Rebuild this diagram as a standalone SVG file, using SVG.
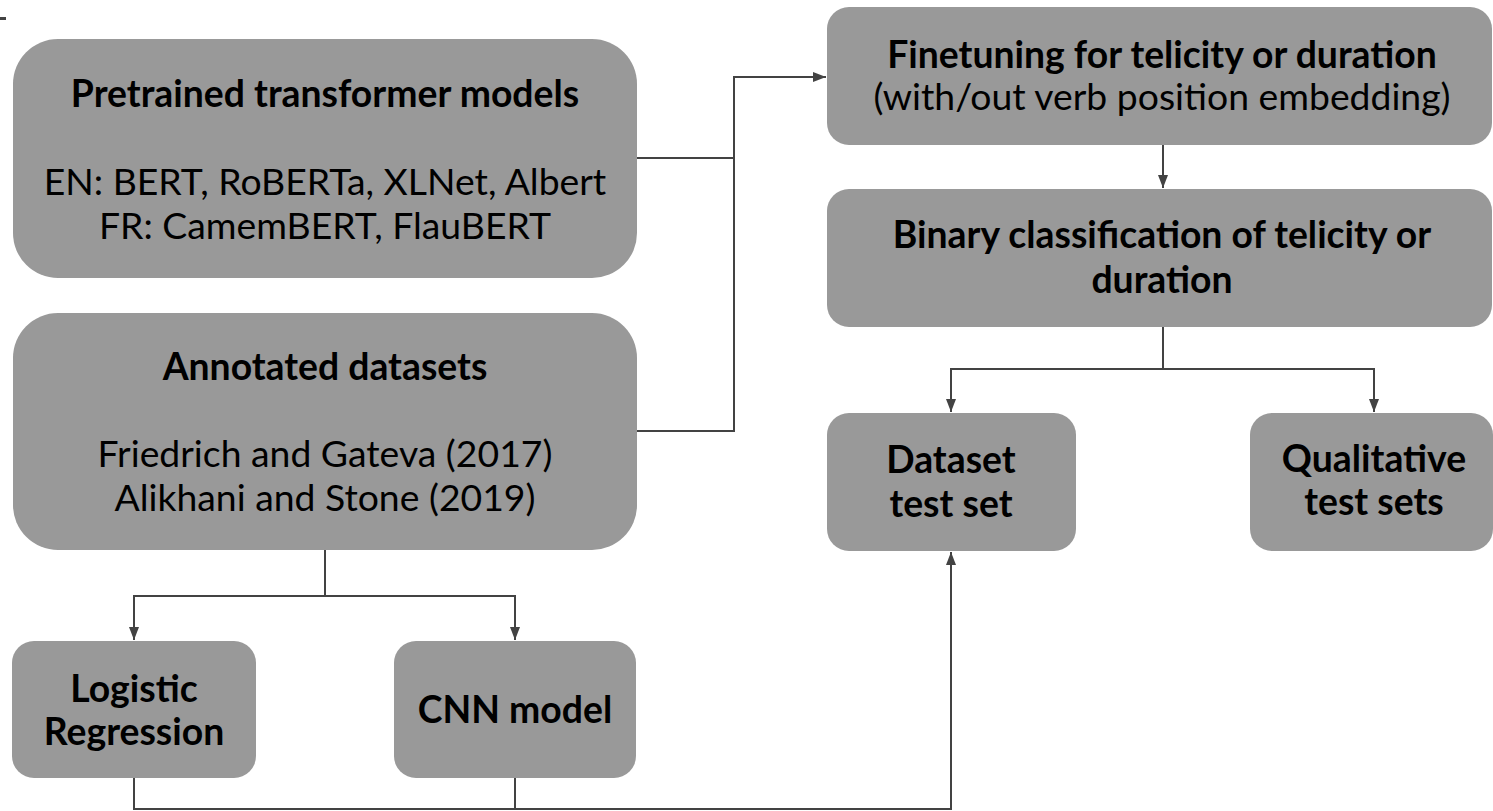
<svg xmlns="http://www.w3.org/2000/svg" width="1493" height="811" viewBox="0 0 1493 811">
  <style>
    .box { fill: #999999; }
    .t { font-family: Lato, "Liberation Sans", sans-serif; fill: #000; text-anchor: middle; font-size: 37.33px; }
    .b { font-weight: bold; }
    .wire { fill: none; stroke: #434343; stroke-width: 2; }
  </style>
  <defs>
    <marker id="arrow" markerUnits="userSpaceOnUse" markerWidth="14" markerHeight="10" refX="13" refY="5" orient="auto">
      <path d="M0,0 L13,5 L0,10 Z" fill="#434343"/>
    </marker>
  </defs>

  <rect x="0" y="17" width="6" height="3" fill="#434343"/>

  <g id="connectors">
    <!-- both left blocks feed the finetuning step -->
    <polyline class="wire" points="637,158 734,158"/>
    <polyline class="wire" points="637,431 734,431 734,77 826,77" marker-end="url(#arrow)"/>
    <!-- finetuning to classification -->
    <polyline class="wire" points="1163,145 1163,188" marker-end="url(#arrow)"/>
    <!-- classification splits into the two test sets -->
    <polyline class="wire" points="1163,327 1163,369 951,369 951,412" marker-end="url(#arrow)"/>
    <polyline class="wire" points="1163,369 1374,369 1374,412" marker-end="url(#arrow)"/>
    <!-- datasets split into the two baselines -->
    <polyline class="wire" points="325,550 325,596 134,596 134,640" marker-end="url(#arrow)"/>
    <polyline class="wire" points="325,596 515,596 515,640" marker-end="url(#arrow)"/>
    <!-- baselines evaluated on dataset test set -->
    <polyline class="wire" points="134,778 134,809 515,809"/>
    <polyline class="wire" points="515,778 515,809 951,809 951,552" marker-end="url(#arrow)"/>
  </g>

  <g id="pretrained">
    <rect class="box" x="13" y="39" width="624" height="239" rx="45"/>
    <text class="t b" x="325" y="107">Pretrained transformer models</text>
    <text class="t" x="325" y="195">EN: BERT, RoBERTa, XLNet, Albert</text>
    <text class="t" x="325" y="239">FR: CamemBERT, FlauBERT</text>
  </g>

  <g id="annotated">
    <rect class="box" x="13" y="313" width="624" height="237" rx="45"/>
    <text class="t b" x="325" y="380">Annotated datasets</text>
    <text class="t" x="325" y="467">Friedrich and Gateva (2017)</text>
    <text class="t" x="325" y="511">Alikhani and Stone (2019)</text>
  </g>

  <g id="logistic">
    <rect class="box" x="12" y="641" width="244" height="137" rx="22"/>
    <text class="t b" x="134" y="702">Logistic</text>
    <text class="t b" x="134" y="745">Regression</text>
  </g>

  <g id="cnn">
    <rect class="box" x="394" y="641" width="242" height="137" rx="22"/>
    <text class="t b" x="515" y="723">CNN model</text>
  </g>

  <g id="finetuning">
    <rect class="box" x="827" y="7" width="665" height="138" rx="22"/>
    <text class="t b" x="1162" y="68">Finetuning for telicity or duration</text>
    <text class="t" x="1162" y="110">(with/out verb position embedding)</text>
  </g>

  <g id="binary">
    <rect class="box" x="827" y="189" width="665" height="138" rx="22"/>
    <text class="t b" x="1162" y="248">Binary classification of telicity or</text>
    <text class="t b" x="1162" y="293">duration</text>
  </g>

  <g id="dataset-test">
    <rect class="box" x="827" y="413" width="249" height="138" rx="22"/>
    <text class="t b" x="951" y="473">Dataset</text>
    <text class="t b" x="951" y="517">test set</text>
  </g>

  <g id="qualitative-test">
    <rect class="box" x="1250" y="413" width="243" height="138" rx="22"/>
    <text class="t b" x="1374" y="472">Qualitative</text>
    <text class="t b" x="1374" y="515">test sets</text>
  </g>
</svg>
